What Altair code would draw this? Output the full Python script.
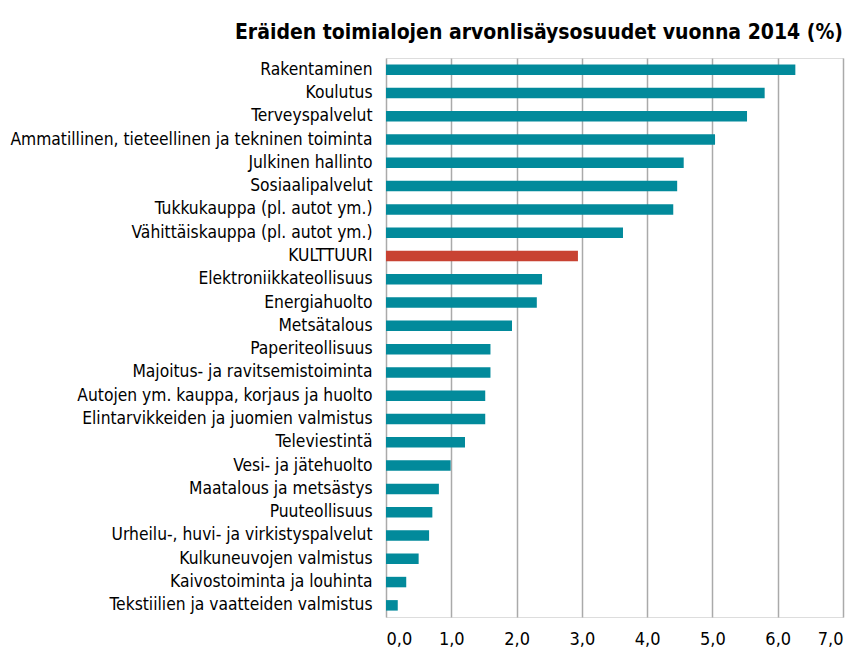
import altair as alt
import pandas as pd

categories = [
    "Rakentaminen",
    "Koulutus",
    "Terveyspalvelut",
    "Ammatillinen, tieteellinen ja tekninen toiminta",
    "Julkinen hallinto",
    "Sosiaalipalvelut",
    "Tukkukauppa (pl. autot ym.)",
    "Vähittäiskauppa (pl. autot ym.)",
    "KULTTUURI",
    "Elektroniikkateollisuus",
    "Energiahuolto",
    "Metsätalous",
    "Paperiteollisuus",
    "Majoitus- ja ravitsemistoiminta",
    "Autojen ym. kauppa, korjaus ja huolto",
    "Elintarvikkeiden ja juomien valmistus",
    "Televiestintä",
    "Vesi- ja jätehuolto",
    "Maatalous ja metsästys",
    "Puuteollisuus",
    "Urheilu-, huvi- ja virkistyspalvelut",
    "Kulkuneuvojen valmistus",
    "Kaivostoiminta ja louhinta",
    "Tekstiilien ja vaatteiden valmistus",
]
values = [6.27, 5.80, 5.53, 5.04, 4.56, 4.46, 4.40, 3.63, 2.94, 2.39, 2.31, 1.93,
          1.60, 1.60, 1.52, 1.52, 1.21, 0.99, 0.81, 0.71, 0.66, 0.50, 0.31, 0.18]
highlight = "KULTTUURI"
x_ticks = [0, 1, 2, 3, 4, 5, 6, 7]

TEAL = "#028a9b"
RED = "#c84232"
GRID = "#aaaaaa"
FONT = "DejaVu Sans Condensed, DejaVu Sans, sans-serif"

df = pd.DataFrame({
    "toimiala": categories,
    "osuus": values,
    "ryhma": ["kulttuuri" if c == highlight else "muu" for c in categories],
})

chart = (
    alt.Chart(df)
    .mark_bar()
    .encode(
        y=alt.Y(
            "toimiala:N",
            sort=categories,
            title=None,
            scale=alt.Scale(paddingInner=0.55, paddingOuter=0.275),
            axis=alt.Axis(
                ticks=False, domain=False, grid=False, labelPadding=14,
                labelFontSize=17.3, labelColor="#000000", labelLimit=600,
                labelFont=FONT,
            ),
        ),
        x=alt.X(
            "osuus:Q",
            title=None,
            scale=alt.Scale(domain=[0, 7], nice=False),
            axis=alt.Axis(
                values=x_ticks, ticks=False, domain=False, grid=True,
                gridColor=GRID, gridWidth=1.5, gridOpacity=1,
                labelExpr="replace(format(datum.value, '.1f'), '.', ',')",
                labelFontSize=18, labelColor="#000000", labelPadding=13,
                labelFont=FONT,
            ),
        ),
        color=alt.Color(
            "ryhma:N",
            scale=alt.Scale(domain=["muu", "kulttuuri"], range=[TEAL, RED]),
            legend=None,
        ),
    )
    .properties(
        width=457,
        height=559,
        autosize=alt.AutoSizeParams(type="none"),
        padding={"left": 378, "top": 50, "right": 6, "bottom": 34},
        title=alt.TitleParams(
            "Eräiden toimialojen arvonlisäysosuudet vuonna 2014 (%)",
            anchor="end", frame="group", font=FONT, fontSize=21,
            fontWeight="bold", color="#000000", offset=15,
        ),
    )
    .configure_view(stroke=GRID, strokeWidth=1.5)
    .configure(font=FONT)
)

chart.save("out.html", embed_options={"renderer": "svg", "actions": False})
